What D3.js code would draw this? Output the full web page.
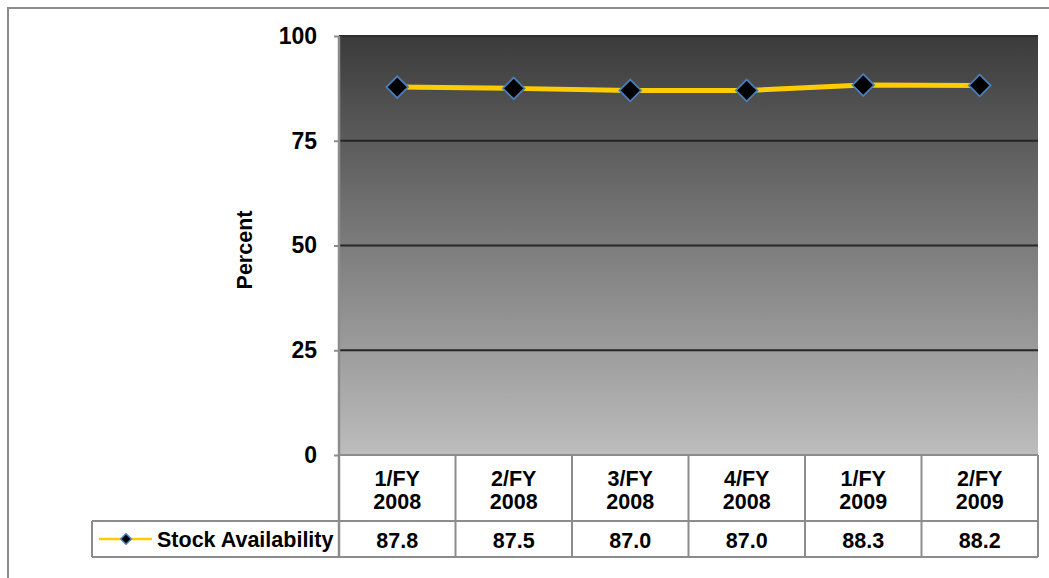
<!DOCTYPE html>
<html>
<head>
<meta charset="utf-8">
<script src="https://cdn.jsdelivr.net/npm/d3@7"></script>
<style>
  html, body { margin: 0; padding: 0; background: #fff; }
  svg { display: block; }
  text { font-family: "Liberation Sans", Arial, sans-serif; font-weight: bold; fill: #000; }
</style>
</head>
<body>
<svg id="chart" width="1049" height="578"></svg>
<script>
// Quarterly stock availability, percent
const quarters = ["1/FY 2008", "2/FY 2008", "3/FY 2008", "4/FY 2008", "1/FY 2009", "2/FY 2009"];
const stockAvailability = [87.8, 87.5, 87.0, 87.0, 88.3, 88.2];
const yTicks = [0, 25, 50, 75, 100];
const seriesName = "Stock Availability";

const svg = d3.select("#chart");
const plot = { left: 339, right: 1038, top: 36, bottom: 455 };
const table = { headerBottom: 521, rowBottom: 557, legendLeft: 92 };

const x = d3.scaleBand().domain(quarters).range([plot.left, plot.right]);
const y = d3.scaleLinear().domain([0, 100]).range([plot.bottom, plot.top]);

// Outer chart frame
svg.append("rect")
  .attr("x", 8).attr("y", 8).attr("width", 1100).attr("height", 700)
  .attr("fill", "none").attr("stroke", "#8c8c8c").attr("stroke-width", 2);

// Plot background gradient
const defs = svg.append("defs");
const grad = defs.append("linearGradient").attr("id", "bg")
  .attr("x1", 0).attr("y1", 0).attr("x2", 0).attr("y2", 1);
grad.append("stop").attr("offset", "0%").attr("stop-color", "#3b3b3b");
grad.append("stop").attr("offset", "100%").attr("stop-color", "#bdbdbd");

svg.append("rect")
  .attr("x", plot.left).attr("y", plot.top)
  .attr("width", plot.right - plot.left).attr("height", plot.bottom - plot.top)
  .attr("fill", "url(#bg)");

// Gridlines
svg.append("g").selectAll("line")
  .data(yTicks.filter(d => d > 0 && d < 100))
  .join("line")
  .attr("x1", plot.left).attr("x2", plot.right)
  .attr("y1", d => y(d)).attr("y2", d => y(d))
  .attr("stroke", "#262626").attr("stroke-width", 2);

// Plot top edge
svg.append("line")
  .attr("x1", plot.left).attr("x2", plot.right)
  .attr("y1", plot.top).attr("y2", plot.top)
  .attr("stroke", "#2e2e2e").attr("stroke-width", 2);

// Y axis
const yAxis = svg.append("g")
  .attr("transform", `translate(${plot.left},0)`)
  .call(d3.axisLeft(y).tickValues(yTicks).tickSize(5).tickPadding(17));
yAxis.select(".domain").remove();
yAxis.selectAll(".tick line").attr("stroke", "#8c8c8c").attr("stroke-width", 2);
yAxis.selectAll(".tick text")
  .style("font-size", "23px").style("font-family", "'Liberation Sans', Arial, sans-serif")
  .style("font-weight", "bold").attr("fill", "#000");

// Axis title
svg.append("text")
  .attr("transform", "translate(252,250) rotate(-90)")
  .attr("text-anchor", "middle")
  .style("font-size", "21.5px")
  .text("Percent");

// Data table: category header row and value row
const tableG = svg.append("g");
const border = "#8c8c8c";

quarters.forEach(q => {
  const parts = q.split(" ");
  const cx = x(q) + x.bandwidth() / 2;
  const t = tableG.append("text")
    .attr("text-anchor", "middle")
    .style("font-size", "21.5px");
  t.append("tspan").attr("x", cx).attr("y", 486).text(parts[0]);
  t.append("tspan").attr("x", cx).attr("y", 509).text(parts[1]);
});

tableG.selectAll("text.val")
  .data(stockAvailability)
  .join("text")
  .attr("class", "val")
  .attr("x", (d, i) => x(quarters[i]) + x.bandwidth() / 2)
  .attr("y", 548)
  .attr("text-anchor", "middle")
  .style("font-size", "21.5px")
  .text(d => d.toFixed(1));

// Table grid lines
const vBounds = quarters.map(q => x(q)).concat([plot.right]);
tableG.selectAll("line.v")
  .data(vBounds)
  .join("line")
  .attr("x1", d => d).attr("x2", d => d)
  .attr("y1", plot.bottom).attr("y2", table.rowBottom)
  .attr("stroke", border).attr("stroke-width", 2);

[[plot.left, plot.right, plot.bottom],
 [table.legendLeft, plot.right, table.headerBottom],
 [table.legendLeft, plot.right, table.rowBottom]].forEach(([x1, x2, yy]) => {
  tableG.append("line")
    .attr("x1", x1).attr("x2", x2).attr("y1", yy).attr("y2", yy)
    .attr("stroke", border).attr("stroke-width", 2);
});
tableG.append("line")
  .attr("x1", table.legendLeft).attr("x2", table.legendLeft)
  .attr("y1", table.headerBottom).attr("y2", table.rowBottom)
  .attr("stroke", border).attr("stroke-width", 2);

// Y axis line
svg.append("line")
  .attr("x1", plot.left).attr("x2", plot.left)
  .attr("y1", plot.top).attr("y2", table.rowBottom)
  .attr("stroke", border).attr("stroke-width", 2.5);

// Legend key inside the table row
const legY = (table.headerBottom + table.rowBottom) / 2;
svg.append("line")
  .attr("x1", 99).attr("x2", 152).attr("y1", legY).attr("y2", legY)
  .attr("stroke", "#ffcc00").attr("stroke-width", 2.5);
svg.append("path")
  .attr("d", d3.symbol(d3.symbolDiamond2, 70)())
  .attr("transform", `translate(126,${legY})`)
  .attr("fill", "#000").attr("stroke", "#4a7ebb").attr("stroke-width", 1.5);
svg.append("text")
  .attr("x", 157).attr("y", legY + 7.5)
  .style("font-size", "21.5px")
  .text(seriesName);

// Series line and markers
const cxOf = i => x(quarters[i]) + x.bandwidth() / 2;
const line = d3.line().x((d, i) => cxOf(i)).y(d => y(d));
svg.append("path")
  .datum(stockAvailability)
  .attr("d", line)
  .attr("fill", "none")
  .attr("stroke", "#ffcc00")
  .attr("stroke-width", 5)
  .attr("stroke-linejoin", "round");

svg.append("g").selectAll("path")
  .data(stockAvailability)
  .join("path")
  .attr("d", d3.symbol(d3.symbolDiamond2, 300)())
  .attr("transform", (d, i) => `translate(${cxOf(i)},${y(d)})`)
  .attr("fill", "#000")
  .attr("stroke", "#4a7ebb")
  .attr("stroke-width", 1.8);
</script>
</body>
</html>
